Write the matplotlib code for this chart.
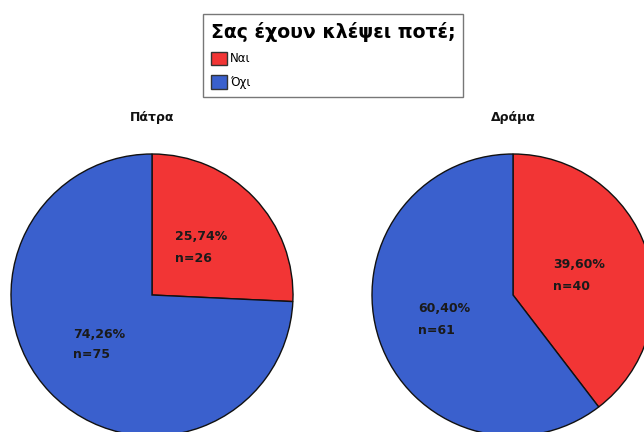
import matplotlib.pyplot as plt
from matplotlib.patches import Patch

# Data
cities = ["Πάτρα", "Δράμα"]
answers = ["Ναι", "Όχι"]
counts = [[26, 75], [40, 61]]
legend_title = "Σας έχουν κλέψει ποτέ;"

colors = ["#F23535", "#3A60CD"]

fig = plt.figure(figsize=(6.44, 4.32), dpi=100)
ax = fig.add_axes([0, 0, 1, 1])

# pixel-like coordinates, y pointing up
W, H = 644, 432
centers = [(152, H - 295), (513, H - 295)]
radius = 141

# label anchor positions (left aligned), one per slice: x, y of first line
label_pos = [
    [(175, H - 237), (73, H - 334)],
    [(553, H - 265), (418, H - 309)],
]
line_gap = 21

for i, city in enumerate(cities):
    ax.pie(counts[i], colors=colors, startangle=90, counterclock=False,
           center=centers[i], radius=radius,
           wedgeprops=dict(edgecolor="#111111", linewidth=1.0))
    total = sum(counts[i])
    for j, n in enumerate(counts[i]):
        pct = f"{n / total * 100:.2f}".replace(".", ",") + "%"
        x, y = label_pos[i][j]
        ax.text(x, y, pct, ha="left", va="center",
                fontsize=9, fontweight="bold", color="#1a1a1a")
        ax.text(x, y - line_gap, "n=" + str(n), ha="left", va="center",
                fontsize=9, fontweight="bold", color="#1a1a1a")
    # panel title
    ax.text(centers[i][0], H - 118, city, ha="center", va="center",
            fontsize=9, fontweight="bold", color="#111111")

ax.set_xlim(0, W)
ax.set_ylim(0, H)
ax.set_aspect("auto")
ax.axis("off")

handles = [Patch(facecolor=c, edgecolor="#333333") for c in colors]
leg = fig.legend(handles, answers, loc="upper left",
                 bbox_to_anchor=(203 / W, 1 - 14 / H),
                 title=legend_title,
                 title_fontproperties=dict(size=13.6, weight="bold"),
                 fontsize=8.5, alignment="left", fancybox=False,
                 handlelength=1.35, handleheight=1.4, handletextpad=0.3,
                 labelspacing=0.85, borderpad=0.65, borderaxespad=0)
leg.get_frame().set_edgecolor("#555555")
leg.get_frame().set_linewidth(1.0)

fig.savefig("out.png", dpi=100)
